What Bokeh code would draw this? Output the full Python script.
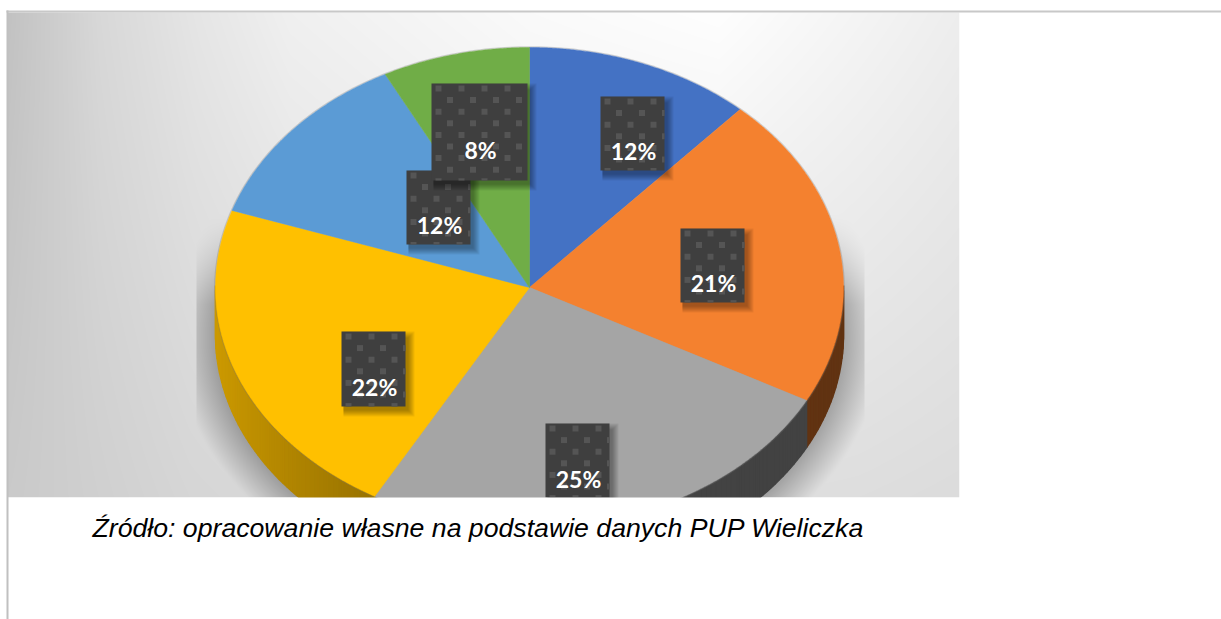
import numpy as np
from bokeh.plotting import figure
from bokeh.embed import file_html
from bokeh.resources import INLINE
from bokeh.core.properties import value

# ---- data ----
shares = [11.7, 21.1, 25.4, 22.0, 12.2, 7.6]
slice_colors = ["#4472c4", "#f4812f", "#a5a5a5", "#ffc000", "#5b9bd5", "#70ad47"]
share_labels = ["12%", "21%", "25%", "22%", "12%", "8%"]
caption = "Źródło: opracowanie własne na podstawie danych PUP Wieliczka"

# ---- layout (page pixels) ----
W, H = 1221, 619
CX, CY, RX, RY, DEPTH = 530.0, 288.0, 314.0, 240.0, 47.0
IMG_L, IMG_T, IMG_R, IMG_B = 8, 13, 960, 498
TEXT_SHIFT = 8
# label boxes: left, top, right, bottom, text centre x, text baseline y
boxes = {
    0: (601, 97, 665, 171, 634, 159),
    1: (681, 229, 745, 303, 714, 291),
    2: (546, 424, 610, 498, 579, 487),
    3: (342, 332, 406, 407, 375, 395),
    4: (407, 171, 471, 245, 440, 233),
    5: (432, 84, 528, 181, 481, 158),
}
draw_order = [0, 1, 2, 3, 4, 5]

p = figure(width=W, height=H, x_range=(1, W + 1), y_range=(H + 1, 1),
           output_backend="svg", toolbar_location=None, min_border=0,
           background_fill_color="white", border_fill_color="white",
           outline_line_color=None)
p.axis.visible = False
p.grid.visible = False


def rim(theta, dy=0.0):
    return CX + RX * np.sin(theta), CY - RY * np.cos(theta) + dy


# ---- background gradient with the pie's soft shadow ----
xs_px = np.arange(IMG_L, IMG_R) + 0.5
ys_px = np.arange(IMG_T, IMG_B) + 0.5
gx, gy = np.meshgrid(xs_px, ys_px)
v = (gy - IMG_T) / (IMG_B - IMG_T)
top_profile = np.interp(xs_px, [8, 100, 200, 290, 530, 720, 960], [194, 216, 230, 240, 250, 254, 238])
bot_profile = np.interp(xs_px, [8, 190, 530, 860, 960], [202, 214, 225, 222, 220])
grey = top_profile[None, :] * (1 - v) + bot_profile[None, :] * v
d = (np.hypot((gx - CX) / RX, (gy - (CY + DEPTH)) / RY) - 1.0) * 300.0
strength = np.clip(1 - d / 38.0, 0, 1)
strength *= np.clip((gy - 215) / 90.0, 0, 1)
strength[(gx < 197) | (gx > 865)] = 0
grey = grey * (1 - 0.28 * strength)
g = np.clip(grey, 0, 255).astype(np.uint32)
rgba = ((255 << 24) | (g << 16) | (g << 8) | g).astype(np.uint32)
p.image_rgba(image=[rgba[::-1]], x=IMG_L, y=IMG_T,
             dw=IMG_R - IMG_L, dh=IMG_B - IMG_T, origin="top_left")

# ---- slice angles from the data ----
fr = np.cumsum([0] + shares) / float(sum(shares))
angles = fr * 2 * np.pi


def shade(hex_color, f):
    r, gg, b = (int(hex_color[i:i + 2], 16) for i in (1, 3, 5))
    return "#%02x%02x%02x" % (int(r * f), int(gg * f), int(b * f))


# ---- side wall, in strips shaded by position ----
sx, sy_, sc = [], [], []
for i, col in enumerate(slice_colors):
    a0, a1 = max(angles[i], np.pi * 0.5), min(angles[i + 1], np.pi * 1.5)
    if a1 <= a0:
        continue
    n = max(2, int((a1 - a0) / 0.02))
    t = np.linspace(a0, a1, n + 1)
    for j in range(n):
        x0, y0 = rim(t[j])
        x1, y1 = rim(t[j + 1])
        sx.append([x0, x1, x1, x0])
        sy_.append([y0 - 2, y1 - 2, y1 + DEPTH, y0 + DEPTH])
        tt = (CX + RX - 0.5 * (x0 + x1)) / (2 * RX)
        sc.append(shade(col, 0.4 + 0.4 * tt ** 2.4))
p.patches(sx, sy_, fill_color=sc, line_color=sc, line_width=1.5)

# ---- faint rim outline ----
t = np.linspace(0, 2 * np.pi, 400)
p.line(CX + (RX + 0.7) * np.sin(t), CY - (RY + 0.7) * np.cos(t), line_color="#777777",
       line_alpha=0.3, line_width=1.2)

# ---- top face ----
tx, ty = [], []
for i in range(len(shares)):
    n = max(2, int((angles[i + 1] - angles[i]) / 0.005))
    t = np.linspace(angles[i], angles[i + 1], n + 1)
    x, y = rim(t)
    tx.append(np.r_[CX, x])
    ty.append(np.r_[CY, y])
p.patches(tx, ty, fill_color=slice_colors, line_color=slice_colors, line_width=0.5)

# ---- label boxes ----
for i in draw_order:
    l, t, r, b, tc, tb = boxes[i]
    for grow in (6, 5, 4, 3, 2, 1, 0):
        p.quad(left=l + 2, right=r + 3 + grow,
               top=t + 6 - grow, bottom=b + 4 + grow,
               fill_color="black", fill_alpha=0.055, line_color=None)
    p.quad(left=l, right=r, top=t, bottom=b, fill_color="#3f3f3f", line_color=None)
    dl, dr, dt, db = [], [], [], []
    row = 0
    yy = t + 2.0
    while yy < b:
        xx = l + (4 if row % 2 == 0 else 15.5) - 23
        while xx < r:
            if xx + 6 > l:
                dl.append(max(xx, l)); dr.append(min(xx + 6, r))
                dt.append(yy); db.append(min(yy + 6, b))
            xx += 23
        yy += 11.6
        row += 1
    p.quad(left=dl, right=dr, top=dt, bottom=db, fill_color="#555555", line_color=None)
    p.text(x=[tc], y=[tb - TEXT_SHIFT], text=[share_labels[i]], text_align="center",
           text_baseline="alphabetic", text_color="white",
           text_font=value("Lato"), text_font_style="bold", text_font_size="23px")

# ---- white page under and beside the picture ----
p.quad(left=[0, IMG_R], right=[W + 1, W + 1], top=[IMG_B, 0], bottom=[H + 1, H + 1],
       fill_color="white", line_color=None)
p.quad(left=[0], right=[W + 1], top=[0], bottom=[IMG_T - 1], fill_color="white", line_color=None)
p.quad(left=[0], right=[IMG_L], top=[0], bottom=[H + 1], fill_color="white", line_color=None)

# ---- page frame lines ----
p.quad(left=[7], right=[W + 1], top=[11], bottom=[13], fill_color="#c8c8c8", line_color=None)
p.quad(left=[7], right=[9], top=[11], bottom=[H + 1], fill_color="#c0c0c0", line_color=None)

p.text(x=[93], y=[536 - TEXT_SHIFT], text=[caption], text_align="left", text_baseline="alphabetic",
       text_color="black", text_font=value("Liberation Sans"), text_font_style="italic",
       text_font_size="26.67px")

open("out.html", "w").write(file_html(p, INLINE))
